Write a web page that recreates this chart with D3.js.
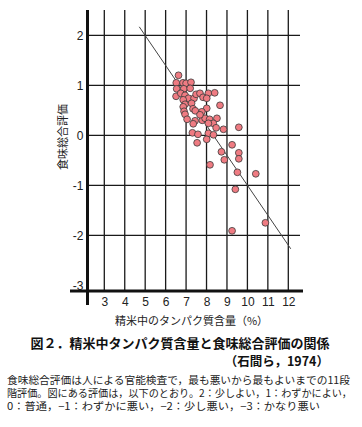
<!DOCTYPE html>
<html><head><meta charset="utf-8">
<script src="https://cdn.jsdelivr.net/npm/d3@7"></script>
<style>
body{margin:0;background:#fff;}
svg{display:block;}
text{font-family:"Liberation Sans",Arial,sans-serif;}
.jp{font-family:"Noto Sans CJK JP","Noto Sans",sans-serif;}
</style></head>
<body><svg id="c" width="362" height="427"></svg>
<script>
// protein (%) values
const protein = [6.63,6.52,6.85,7.00,7.24,6.54,6.89,7.20,6.51,6.74,6.95,7.12,7.39,7.49,7.68,7.83,8.09,8.40,6.86,6.95,7.27,8.66,6.86,7.34,6.90,8.01,7.77,7.45,6.95,7.05,7.44,7.79,7.93,8.15,8.51,8.33,8.09,7.35,8.47,8.83,9.58,7.31,7.58,8.09,8.34,8.01,7.54,9.25,8.73,9.58,9.58,8.87,8.17,9.51,10.41,9.41,10.88,9.25,7.68,8.01];
// taste score values
const taste   = [1.20,1.05,1.05,1.04,1.06,0.93,0.93,0.94,0.78,0.84,0.80,0.74,0.74,0.82,0.84,0.76,0.84,0.85,0.71,0.62,0.64,0.60,0.57,0.53,0.48,0.54,0.47,0.49,0.42,0.32,0.29,0.30,0.34,0.32,0.34,0.24,0.24,0.23,0.15,0.12,0.16,0.05,0.02,0.04,0.01,-0.08,-0.15,-0.19,-0.33,-0.35,-0.47,-0.49,-0.59,-0.74,-0.77,-1.08,-1.75,-1.91,0.41,0.74];
const regX = [4.71, 12.12];
const regY = [2.17, -2.27];
const xTicks = [3,4,5,6,7,8,9,10,11,12];
const yTicks = [2,1,0,-1,-2,-3];
const yGrid = [2,1,0,-1,-2];

const svg = d3.select("#c");
const x = d3.scaleLinear().domain([3,12]).range([104.3,288.3]);
const y = d3.scaleLinear().domain([0,2]).range([135.3,35.3]);
const axX = 87.5, axY = 291;

// grid
svg.append("g").selectAll("line").data(xTicks).join("line")
  .attr("x1",d=>x(d)).attr("x2",d=>x(d)).attr("y1",10).attr("y2",axY)
  .attr("stroke","#1a1a1a").attr("stroke-width",1.3);
svg.append("g").selectAll("line").data(yGrid).join("line")
  .attr("x1",axX).attr("x2",300).attr("y1",d=>y(d)).attr("y2",d=>y(d))
  .attr("stroke","#1a1a1a").attr("stroke-width",1.3);

// regression line
svg.append("line")
  .attr("x1",x(regX[0])).attr("y1",y(regY[0]))
  .attr("x2",x(regX[1])).attr("y2",y(regY[1]))
  .attr("stroke","#444").attr("stroke-width",1);

// points
const pts = protein.map((p,i)=>({p, t:taste[i]}));
svg.append("g").selectAll("circle").data(pts).join("circle")
  .attr("cx",d=>x(d.p)).attr("cy",d=>y(d.t)).attr("r",3.4)
  .attr("fill","#ef7b82").attr("stroke","#3a3a3a").attr("stroke-width",0.8);

// axes lines
svg.append("line").attr("x1",axX).attr("x2",axX).attr("y1",10).attr("y2",305)
  .attr("stroke","#111").attr("stroke-width",3);
svg.append("line").attr("x1",70).attr("x2",303).attr("y1",axY).attr("y2",axY)
  .attr("stroke","#111").attr("stroke-width",3);

// tick labels via d3 axes
const gx = svg.append("g").attr("transform",`translate(0,${axY})`)
  .call(d3.axisBottom(x).tickValues(xTicks).tickSize(0).tickPadding(6).tickFormat(d3.format("d")));
gx.select(".domain").remove();
gx.selectAll("text").attr("font-size",12).attr("fill","#222").attr("font-family","'Liberation Sans',Arial,sans-serif");

const gy = svg.append("g").attr("transform",`translate(${axX},0)`)
  .call(d3.axisLeft(y).tickValues(yTicks).tickSize(0).tickPadding(4).tickFormat(d=>d<0?"-"+Math.abs(d):String(d)));
gy.select(".domain").remove();
gy.selectAll("text").attr("font-size",12).attr("fill","#222").attr("font-family","'Liberation Sans',Arial,sans-serif");

// axis titles
svg.append("text").attr("class","jp").attr("transform","translate(62,137) rotate(-90)")
  .attr("text-anchor","middle").attr("dominant-baseline","central")
  .attr("font-size",11).attr("fill","#222").text("食味総合評価");
svg.append("text").attr("class","jp").attr("x",191.5).attr("y",320)
  .attr("text-anchor","middle").attr("dominant-baseline","central")
  .attr("font-size",11).attr("fill","#222").text("精米中のタンパク質含量（%）");

// title
svg.append("text").attr("class","jp").attr("x",180).attr("y",342.5)
  .attr("text-anchor","middle").attr("dominant-baseline","central")
  .attr("font-size",13).attr("font-weight","bold").attr("fill","#111")
  .text("図２．精米中タンパク質含量と食味総合評価の関係");
svg.append("text").attr("class","jp").attr("x",329).attr("y",360.5)
  .attr("text-anchor","end").attr("dominant-baseline","central")
  .attr("font-size",12.5).attr("font-weight","bold").attr("fill","#111")
  .text("（石間ら，1974）");

// caption
const caption = [
  "食味総合評価は人による官能検査で，最も悪いから最もよいまでの11段",
  "階評価。図にある評価は，以下のとおり。2：少しよい，1：わずかによい，",
  "0：普通，−1：わずかに悪い，−2：少し悪い，−3：かなり悪い"
];
const capLen = [343, 345, 313];
svg.append("g").selectAll("text").data(caption).join("text").attr("class","jp")
  .attr("x",7).attr("y",(d,i)=>379.5+i*12.8).attr("dominant-baseline","central")
  .attr("font-size",10.3).attr("fill","#222")
  .attr("textLength",(d,i)=>capLen[i]).attr("lengthAdjust","spacingAndGlyphs")
  .text(d=>d);
</script></body></html>
